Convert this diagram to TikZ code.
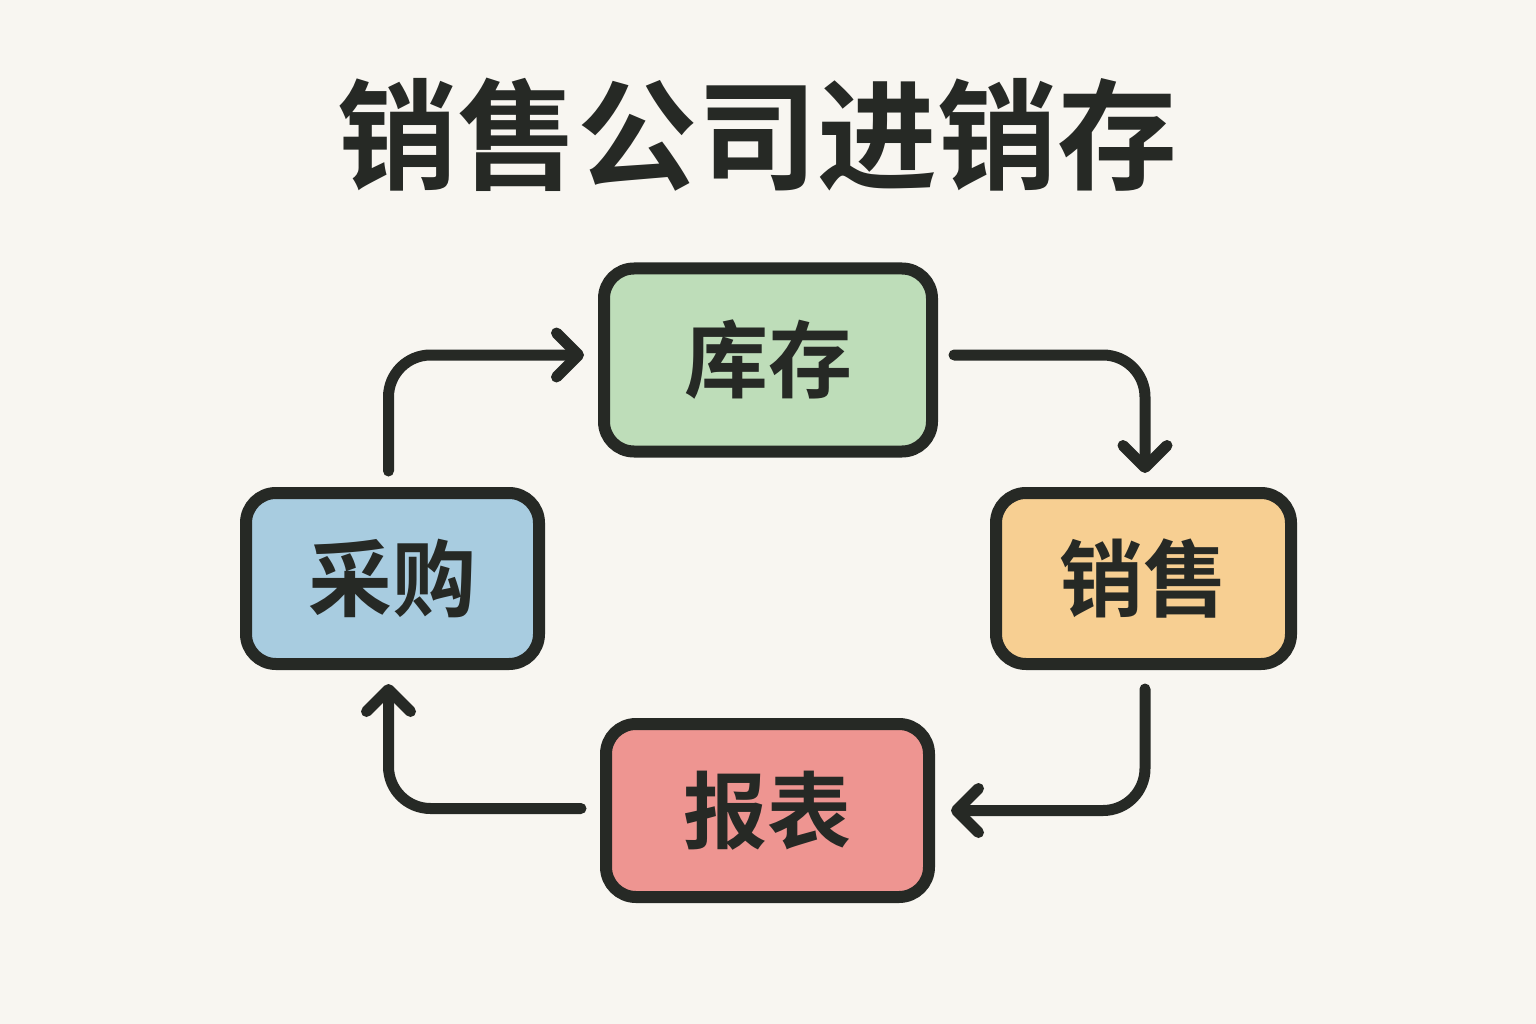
\documentclass[tikz,border=0pt]{standalone}
\usepackage{fontspec}
\newfontfamily\cjk{Noto Sans CJK SC Bold}
\usetikzlibrary{arrows.meta}
\definecolor{bgc}{HTML}{F8F6F1}
\definecolor{ink}{HTML}{262925}
\definecolor{cgreen}{HTML}{BEDDB9}
\definecolor{cblue}{HTML}{A8CCE0}
\definecolor{corange}{HTML}{F7CF92}
\definecolor{cred}{HTML}{EE9591}
\tikzset{
  box/.style={draw=ink, line width=12pt, rounded corners=30pt, inner sep=0pt, outer sep=0pt,
    font=\cjk\fontsize{84}{90}\selectfont, text=ink},
  arr/.style={draw=ink, line width=11pt, line cap=round, rounded corners=42pt,
    -{Straight Barb[length=22pt, width=44pt, line cap=round, line join=round]}},
}
\begin{document}
\begin{tikzpicture}[x=1pt, y=-1pt]
\useasboundingbox[fill=bgc] (0,0) rectangle (1536,1024);
\node[font=\cjk\fontsize{120}{126}\selectfont, text=ink] (title) at (757,135) {销售公司进销存};
\node[box, fill=cgreen, minimum width=328pt, minimum height=183pt] (kc) at (768,360) {库存};
\node[box, fill=cblue, minimum width=293pt, minimum height=171pt] (cg) at (392.5,578.5) {采购};
\node[box, fill=corange, minimum width=295pt, minimum height=171pt] (xs) at (1143.5,578.5) {销售};
\node[box, fill=cred, minimum width=323pt, minimum height=173pt] (bb) at (767.5,810.5) {报表};
\draw[arr] ([xshift=-4pt, yshift=22pt]cg.north) |- ([xshift=-20pt, yshift=5pt]kc.west);
\draw[arr] ([xshift=22pt, yshift=5pt]kc.east) -| ([xshift=1.5pt, yshift=20pt]xs.north);
\draw[arr] ([xshift=1.5pt, yshift=-25pt]xs.south) |- ([xshift=22pt]bb.east);
\draw[arr] ([xshift=-25pt, yshift=2pt]bb.west) -| ([xshift=-4pt, yshift=-20pt]cg.south);
\end{tikzpicture}
\end{document}
